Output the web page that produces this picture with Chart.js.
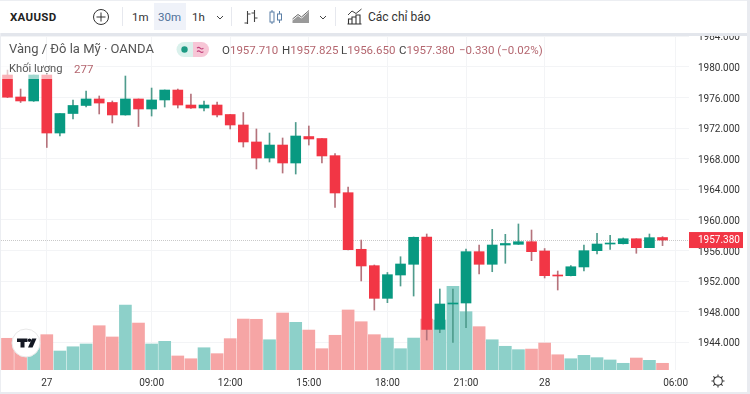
<!DOCTYPE html>
<html>
<head>
<meta charset="utf-8">
<title>XAUUSD</title>
<script src="https://cdn.jsdelivr.net/npm/chart.js@4"></script>
<style>
html, body { margin: 0; padding: 0; background: #fff; }
body { width: 750px; height: 394px; position: relative; overflow: hidden; font-family: Roboto, sans-serif; }
canvas { position: absolute; left: 0; top: 0; }
.t { position: absolute; white-space: nowrap; line-height: 14px; }
.toolbar { position: absolute; left: 0; top: 0; width: 750px; height: 33px; background: #fff; border-top: 1px solid #eceef2; box-sizing: border-box; }
.sep { position: absolute; left: 0; top: 33px; width: 750px; height: 3px; background: #e3e6ec; }
.edgeR { position: absolute; left: 747px; top: 0; width: 3px; height: 394px; background: #e9ebf0; }
.edgeB { position: absolute; left: 0; top: 392px; width: 750px; height: 2px; background: #e9ebf0; }
.edgeL { position: absolute; left: 0; top: 33px; width: 1px; height: 361px; background: #eceef2; }
.div { position: absolute; top: 7px; width: 1px; height: 19px; background: #e6e8ee; }
.volfade { position: absolute; left: 0; top: 60px; width: 96px; height: 19px; background: rgba(255,255,255,.62); }
.ohlc { color: #444; font-size: 11.5px; }
.ohlc b { font-weight: 400; color: #b4666f; }
svg { position: absolute; overflow: visible; }
</style>
</head>
<body>
<canvas id="c" width="750" height="394"></canvas>

<div class="volfade"></div>
<div class="t" style="left:9px;top:42px;font-size:13px;color:#555;">Vàng / Đô la Mỹ · OANDA</div>
<svg style="left:176px;top:42px" width="33" height="15">
  <path d="M17 0H8a7.5 7.5 0 0 0 0 15h9z" fill="#daf1ec"/>
  <path d="M17 0h8.5a7.5 7.5 0 0 1 0 15H17z" fill="#f7c6d6"/>
  <circle cx="8.5" cy="7.5" r="3.2" fill="#1c9a83"/>
  <path d="M21 6.2q1.6-1.6 3.2 0t3.2 0M21 9.6q1.6-1.6 3.2 0t3.2 0" fill="none" stroke="#c2417a" stroke-width="1.1"/>
</svg>
<div class="t ohlc" style="left:222px;top:43px;">O<b>1957.710</b></div>
<div class="t ohlc" style="left:282px;top:43px;">H<b>1957.825</b></div>
<div class="t ohlc" style="left:341px;top:43px;">L<b>1956.650</b></div>
<div class="t ohlc" style="left:399px;top:43px;">C<b>1957.380</b></div>
<div class="t ohlc" style="left:459px;top:43px;"><b>−0.330 (−0.02%)</b></div>
<div class="t" style="left:9px;top:62px;font-size:11.2px;color:#555;">Khối lượng</div>
<div class="t" style="left:74px;top:62px;font-size:11.5px;color:#b4666f;">277</div>

<svg style="left:12px;top:329px" width="28" height="28">
  <circle cx="14" cy="14" r="14" fill="#fff" stroke="#e8e8e8"/>
  <path d="M5 9.5h10.500v3.500h-3v5.500h-4v-5.500H5z" fill="#131722"/>
  <circle cx="17.500" cy="11.300" r="1.800" fill="#131722"/>
  <path d="M20 9.500h4.500l-4 9H16z" fill="#131722"/>
</svg>

<div class="toolbar"></div>
<div class="sep"></div>
<div class="edgeL"></div>
<div class="edgeR"></div>
<div class="edgeB"></div>

<div class="t" style="left:10px;top:10px;font-size:11.5px;font-weight:700;color:#222;letter-spacing:.3px;">XAUUSD</div>
<svg style="left:93px;top:9px" width="16" height="16">
  <circle cx="8" cy="8" r="7.500" fill="none" stroke="#333" stroke-width="1"/>
  <path d="M8 3.500v9M3.500 8h9" stroke="#333" stroke-width="1"/>
</svg>
<div class="div" style="left:122px"></div>
<div style="position:absolute;left:154px;top:3px;width:32px;height:27px;background:#eff2f9;"></div>
<div class="t" style="left:132px;top:10px;font-size:11.5px;color:#333;">1m</div>
<div class="t" style="left:158px;top:10px;font-size:11.5px;color:#4f7199;">30m</div>
<div class="t" style="left:192px;top:10px;font-size:11.5px;color:#333;">1h</div>
<svg style="left:216px;top:15px" width="8" height="5"><path d="M1 1l3 3 3-3" fill="none" stroke="#444"/></svg>
<div class="div" style="left:231px"></div>
<svg style="left:243px;top:9px" width="15" height="16">
  <path d="M4.500 2v13M1.500 14h3M4.500 5h3M11.500 1v12M8.500 4h3M11.500 9h3" fill="none" stroke="#444" stroke-width="1.100"/>
</svg>
<svg style="left:269px;top:9px" width="14" height="16">
  <rect x="1" y="3" width="4" height="10" fill="none" stroke="#5b7fa6"/><path d="M3 1v2M3 13v2M10.500 2v3M10.500 11v3" stroke="#5b7fa6"/>
  <rect x="8.500" y="5" width="4" height="6" fill="none" stroke="#5b7fa6"/>
</svg>
<svg style="left:292px;top:10px" width="18" height="14">
  <path d="M0.500 13V10.500L6 6l3.500 2.500L17 1.500V13z" fill="#9a9a9a"/><path d="M0.500 9L6 4.500l3.500 2.500L17 0.500" fill="none" stroke="#666"/>
</svg>
<svg style="left:319px;top:15px" width="8" height="5"><path d="M1 1l3 3 3-3" fill="none" stroke="#444"/></svg>
<div class="div" style="left:335px"></div>
<svg style="left:347px;top:8px" width="16" height="17">
  <path d="M1 7L5 3l4 2.500L14.500 1" fill="none" stroke="#444"/>
  <path d="M1.500 16V11h3.500v5zM5 16V9h4v7zM9 16V7h4v9zM0.500 16h14" fill="none" stroke="#333" stroke-width="1.100"/>
</svg>
<div class="t" style="left:368px;top:10px;font-size:12px;color:#333;">Các chỉ báo</div>

<svg style="left:711px;top:374px" width="14" height="14">
  <circle cx="7" cy="7" r="4.300" fill="none" stroke="#333" stroke-width="1.100"/>
  <path d="M7 0.500v2M7 11.500v2M0.500 7h2M11.500 7h2M2.400 2.400l1.500 1.500M10.100 10.100l1.500 1.500M11.600 2.400l-1.500 1.500M3.900 10.100l-1.500 1.500" stroke="#333" stroke-width="1.100"/>
</svg>

<script>
// ===== data =====
const opens = [1978.95,1976.08,1975.56,1978.95,1971.37,1973.92,1974.97,1975.82,1975.36,1973.73,1975.82,1974.51,1975.69,1976.99,1975.03,1974.64,1975.03,1973.79,1972.42,1970.2,1968.1,1969.8,1967.45,1970.91,1970.65,1968.41,1963.57,1956.17,1954.03,1949.76,1952.81,1954.21,1957.78,1945.71,1949.02,1949.15,1955.86,1954.21,1956.73,1956.82,1957.16,1955.95,1952.81,1952.72,1953.86,1955.99,1956.86,1956.9,1957.55,1956.38,1957.71];
const highs = [1979.6,1977.12,1978.95,1978.95,1973.92,1975.69,1976.86,1976.21,1975.56,1978.82,1975.82,1977.25,1977.0,1977.12,1976.47,1975.56,1975.42,1973.8,1974.05,1971.9,1971.37,1970.72,1972.75,1972.29,1970.65,1968.69,1964.31,1957.38,1954.12,1953.14,1955.2,1957.78,1958.17,1950.98,1950.98,1956.21,1956.73,1958.78,1958.13,1959.48,1958.69,1956.27,1953.33,1954.05,1956.73,1958.26,1957.99,1957.65,1957.55,1958.17,1957.825];
const lows = [1976.0,1975.36,1975.5,1969.48,1970.98,1973.2,1974.77,1973.86,1972.68,1973.7,1972.22,1973.59,1974.77,1974.64,1974.6,1974.25,1973.46,1971.9,1969.54,1966.67,1967.58,1966.14,1966.01,1969.8,1967.45,1961.66,1956.1,1952.03,1948.23,1949.19,1951.37,1950.06,1944.31,1945.27,1944.01,1945.92,1952.94,1953.24,1954.34,1956.8,1954.68,1952.42,1950.85,1952.7,1953.33,1955.56,1956.17,1956.86,1955.65,1956.38,1956.65];
const closes = [1976.05,1975.56,1978.95,1971.37,1973.92,1974.97,1975.82,1975.29,1973.73,1975.82,1974.51,1975.69,1976.99,1975.03,1974.64,1975.03,1973.73,1972.42,1970.2,1968.1,1969.8,1967.45,1970.98,1970.59,1968.37,1963.53,1956.12,1953.99,1949.76,1952.85,1954.25,1957.74,1945.71,1949.02,1949.15,1955.86,1954.21,1956.73,1956.93,1957.16,1955.86,1952.72,1952.68,1953.89,1955.99,1956.86,1956.99,1957.55,1956.38,1957.69,1957.38];
const volumes = [1310,1240,1155,1460,785,960,1075,1830,1365,2685,1940,1075,1185,580,465,920,675,1295,2105,2095,1250,2355,1970,1650,880,1435,2480,1995,1460,1320,880,1320,2105,2065,3455,2410,1790,1250,980,840,865,1115,630,465,605,510,415,277,495,400,277];

const xTickIndex = [3, 11, 17, 23, 29, 35, 41, 51];
const xTickLabels = ['27', '09:00', '12:00', '15:00', '18:00', '21:00', '28', '06:00'];
const yTicks = [1944, 1948, 1952, 1956, 1960, 1964, 1968, 1972, 1976, 1980, 1984];
const lastPrice = 1957.38;

// ===== colors =====
const RED = '#f23645', GREEN = '#089981';
const RED_WICK = '#b5737c', GREEN_WICK = '#4f9c8d';
const RED_VOL = '#f6a5a5', GREEN_VOL = '#8dd0c9';
const GRID = '#f3f4f6';
const isDown = i => closes[i] < opens[i];

// the price line goes behind the candles, its label over the axis
const lastPricePlugin = {
    id: 'lastPrice',
    beforeDatasetsDraw(chart) {
        const { ctx, chartArea, scales } = chart;
        const y = Math.round(scales.y.getPixelForValue(lastPrice)) + 0.5;
        ctx.save();
        ctx.strokeStyle = '#c9c9c9';
        ctx.setLineDash([1, 1]);
        ctx.beginPath();
        ctx.moveTo(chartArea.left, y);
        ctx.lineTo(chartArea.right, y);
        ctx.stroke();
        ctx.restore();
    },
    afterDraw(chart) {
        const { ctx, chartArea, scales } = chart;
        const y = scales.y.getPixelForValue(lastPrice);
        ctx.save();
        ctx.fillStyle = RED;
        ctx.fillRect(chartArea.right, y - 8, 54, 16);
        ctx.fillStyle = '#fff';
        ctx.font = '10px Roboto';
        ctx.textBaseline = 'middle';
        ctx.fillText(lastPrice.toFixed(3), chartArea.right + 9, y + 0.5);
        ctx.restore();
    }
};

new Chart(document.getElementById('c'), {
    type: 'bar',
    plugins: [lastPricePlugin],
    data: {
        labels: opens.map((_, i) => i),
        datasets: [
            {
                label: 'Khối lượng',
                data: volumes,
                yAxisID: 'vol',
                order: 3,
                grouped: false,
                barThickness: 12,
                backgroundColor: volumes.map((_, i) => isDown(i) ? RED_VOL : GREEN_VOL)
            },
            {
                label: 'wick',
                data: lows.map((l, i) => [l, highs[i]]),
                yAxisID: 'y',
                order: 2,
                grouped: false,
                barThickness: 1,
                backgroundColor: lows.map((_, i) => isDown(i) ? RED_WICK : GREEN_WICK)
            },
            {
                label: 'XAUUSD',
                data: opens.map((o, i) => [o, closes[i]]),
                yAxisID: 'y',
                order: 1,
                grouped: false,
                barThickness: 10,
                backgroundColor: opens.map((_, i) => isDown(i) ? RED : GREEN)
            }
        ]
    },
    options: {
        responsive: false,
        animation: false,
        layout: { padding: { left: 1, right: 0, top: 36, bottom: 0 } },
        plugins: { legend: { display: false }, tooltip: { enabled: false } },
        scales: {
            x: {
                type: 'linear',
                offset: false,
                min: -0.496,
                max: 52.02,
                afterBuildTicks: s => { s.ticks = xTickIndex.map(value => ({ value })); },
                afterFit: s => { s.height = 24; },
                grid: { color: GRID, drawTicks: false, offset: false },
                border: { display: false },
                ticks: {
                    autoSkip: false,
                    maxRotation: 0,
                    padding: 7,
                    color: '#333',
                    font: { family: 'Roboto', size: 10 },
                    callback: (v, i) => xTickLabels[i]
                }
            },
            y: {
                position: 'right',
                min: 1940.392,
                max: 1984.052,
                afterBuildTicks: s => { s.ticks = yTicks.map(value => ({ value })); },
                afterFit: s => { s.width = 61; },
                grid: { color: GRID, drawTicks: false },
                border: { display: false },
                ticks: {
                    padding: 9,
                    labelOffset: 1.5,
                    color: '#333',
                    font: { family: 'Roboto', size: 10 },
                    callback: v => v.toFixed(3)
                }
            },
            vol: {
                display: false,
                min: 0,
                max: 13800
            }
        }
    }
});
</script>
</body>
</html>
